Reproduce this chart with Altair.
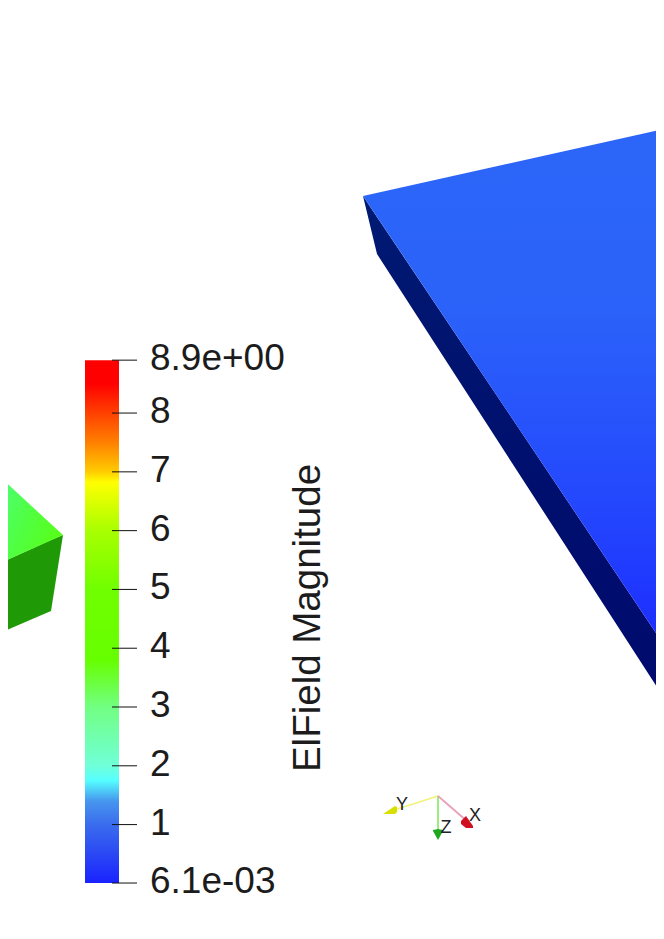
import altair as alt
import pandas as pd

# --- values (image pixel frame for the scene, field value for the colour bar)
blue_top_x = [363, 664, 664]
blue_top_upper = [196, 129, 129]
blue_top_lower = [196, 645, 645]
blue_side_x = [363, 377, 664]
blue_side_upper = [196, 217, 645]
blue_side_lower = [196, 254, 698]
green_top_x = [0, 63]
green_top_upper = [477, 535]
green_top_lower = [563, 535]
green_side_x = [0, 51, 63]
green_side_upper = [563, 540, 535]
green_side_lower = [633, 611, 535]

stop_values = [0.0061, 0.5, 1.0, 1.4, 1.75, 2.0, 3.0, 3.8, 5.0, 6.0, 6.82, 7.0, 7.5, 8.0, 8.5, 8.9]
stop_colors = ["#1a22ff", "#2a48f4", "#3a6cee", "#4696ee", "#55ffff", "#70ffd8", "#72ff82", "#66ff00",
               "#70ff00", "#a8ff00", "#ffff00", "#ffcc00", "#ff8000", "#ff4000", "#ff0000", "#ff0000"]
tick_values = [0.0061, 1, 2, 3, 4, 5, 6, 7, 8, 8.9]
tick_labels = ["6.1e-03", "1", "2", "3", "4", "5", "6", "7", "8", "8.9e+00"]

axis_line_x = [438, 438, 438]
axis_line_y = [796, 796, 796]
axis_line_x2 = [388, 438, 468]
axis_line_y2 = [812, 832, 822]
axis_line_colors = ["#f2f27c", "#90ee70", "#eaa0b8"]
axis_names = ["Y", "Z", "X"]
axis_name_x = [402, 446, 475]
axis_name_y = [805, 828, 816]

cone_y_x = [383, 395, 397]
cone_y_upper = [814, 806, 807]
cone_y_lower = [814, 814, 812]
cone_z_x = [433, 438, 443]
cone_z_upper = [830, 829, 830]
cone_z_lower = [831, 840, 831]
cone_x_x = [461, 466, 473]
cone_x_upper = [821, 816, 826]
cone_x_lower = [824, 828, 828]

bar_x = 85
bar_x2 = 119
tick_x = 112
tick_x2 = 137
label_x = 150

title_text = "ElField Magnitude"
title_x = 308
title_y = 618

X_DOMAIN = [8, 656]
Y_DOMAIN = [931, 8]
VALUE_DOMAIN = [-0.81, 14.89]

x_scale = alt.Scale(domain=X_DOMAIN, nice=False, zero=False)
x_enc = alt.X("x:Q", scale=x_scale, axis=None)
y_px = alt.Y("y:Q", scale=alt.Scale(domain=Y_DOMAIN, nice=False, zero=False), axis=None)
y_val = alt.Y("y:Q", scale=alt.Scale(domain=VALUE_DOMAIN, nice=False, zero=False), axis=None)


def face(xs, upper, lower, color):
    frame = pd.DataFrame({"x": xs, "y": upper, "y2": lower})
    return alt.Chart(frame).mark_area(color=color, clip=True, interpolate="linear", opacity=1).encode(
        x=x_enc, y=y_px, y2="y2:Q"
    )


def grad(stops, x1=0, y1=0, x2=0, y2=1):
    return alt.Gradient(
        gradient="linear", x1=x1, y1=y1, x2=x2, y2=y2,
        stops=[alt.GradientStop(offset=o, color=c) for o, c in stops],
    )


span = stop_values[-1] - stop_values[0]
bar_stops = [((v - stop_values[0]) / span, c) for v, c in zip(stop_values, stop_colors)]
bar = alt.Chart(pd.DataFrame({"x": [bar_x], "x2": [bar_x2], "y": [stop_values[0]], "y2": [stop_values[-1]]})).mark_rect(
    color=grad(bar_stops, y1=1, y2=0)
).encode(x=x_enc, x2="x2:Q", y=y_val, y2="y2:Q")

tick_frame = pd.DataFrame({"x": [tick_x] * len(tick_values), "x2": [tick_x2] * len(tick_values),
                           "y": tick_values, "label": tick_labels, "lx": [label_x] * len(tick_values)})
ticks = alt.Chart(tick_frame).mark_rule(color="#111111", strokeWidth=1).encode(x=x_enc, x2="x2:Q", y=y_val)
labels = alt.Chart(tick_frame).mark_text(
    font="Liberation Sans", fontSize=37, align="left", baseline="middle", dy=-1, color="#1c1c1c"
).encode(x=alt.X("lx:Q", scale=x_scale, axis=None), y=y_val, text="label:N")

title = alt.Chart(pd.DataFrame({"x": [title_x], "y": [title_y], "t": [title_text]})).mark_text(
    font="Liberation Sans", fontSize=38.5, angle=270, align="center", baseline="middle", color="#1c1c1c"
).encode(x=x_enc, y=y_px, text="t:N")

axis_frame = pd.DataFrame({"x": axis_line_x, "y": axis_line_y, "x2": axis_line_x2, "y2": axis_line_y2,
                           "c": axis_line_colors})
axis_lines = alt.Chart(axis_frame).mark_rule(strokeWidth=1.8).encode(
    x=x_enc, y=y_px, x2="x2:Q", y2="y2:Q", color=alt.Color("c:N", scale=None, legend=None)
)
axis_text = alt.Chart(pd.DataFrame({"x": axis_name_x, "y": axis_name_y, "t": axis_names})).mark_text(
    font="Liberation Sans", fontSize=18, align="center", baseline="middle", color="#222222"
).encode(x=x_enc, y=y_px, text="t:N")

chart = alt.layer(
    face(green_side_x, green_side_upper, green_side_lower, "#1f9a06"),
    face(green_top_x, green_top_upper, green_top_lower,
         grad([(0, "#4cff78"), (0.5, "#50ff45"), (1, "#58ff18")], x1=0, y1=0, x2=1, y2=0.6)),
    face(blue_side_x, blue_side_upper, blue_side_lower,
         grad([(0, "#001a72"), (0.5, "#00106e"), (1, "#000a6e")])),
    face(blue_top_x, blue_top_upper, blue_top_lower,
         grad([(0, "#2c66f8"), (0.35, "#2b62f9"), (0.72, "#2448fd"), (1, "#1c2cff")])),
    bar, ticks, labels, title, axis_lines,
    face(cone_y_x, cone_y_upper, cone_y_lower, "#d8e000"),
    face(cone_z_x, cone_z_upper, cone_z_lower, "#1fa81f"),
    face(cone_x_x, cone_x_upper, cone_x_lower, "#d01020"),
    axis_text,
).resolve_scale(y="independent").properties(
    width=648, height=923, padding=0, autosize=alt.AutoSizeParams(type="none")
).configure_view(stroke=None)

chart.save("out.html", embed_options={"renderer": "svg", "actions": False})
